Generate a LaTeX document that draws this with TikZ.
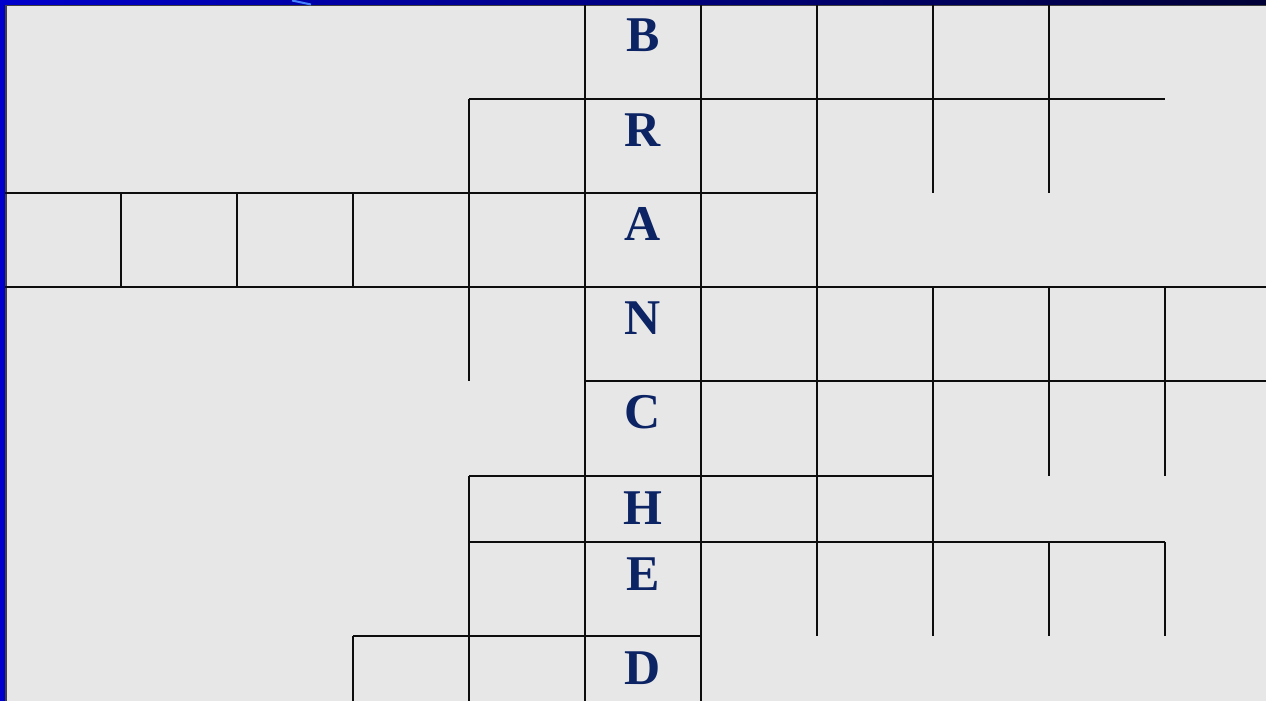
\documentclass[tikz,border=0pt]{standalone}
\usepackage{fontspec}
\setmainfont{Liberation Serif}
\begin{document}
\begin{tikzpicture}[x=1pt,y=-1pt,
  grid/.style={line width=2.8pt, draw=black!95},
  letter/.style={text=letterblue, font=\bfseries\fontsize{50}{50}\selectfont, inner sep=0pt, anchor=base}]
\definecolor{letterblue}{RGB}{12,36,100}
\definecolor{bg}{RGB}{231,231,231}
\definecolor{frameblue}{RGB}{0,0,205}
\definecolor{framedark}{RGB}{0,0,55}
\definecolor{streak}{RGB}{70,130,255}
\useasboundingbox (0,0) rectangle (1266,701);
% background and frame
\fill[bg] (0,0) rectangle (1266,701);
\shade[left color=frameblue, right color=framedark] (0,0) rectangle (1266,5.5);
\fill[frameblue] (0,0) rectangle (5,701);
\draw[line width=1.8pt, draw=black!75] (5.6,701) -- (5.6,5.6) -- (1266,5.6);
\draw[line width=2pt, draw=streak] (292,0.5) .. controls (301,2) .. (311,4.5);
% row 1 (B)
\draw[grid] (585,5) -- (585,99) (701,5) -- (701,99) (817,5) -- (817,99) (933,5) -- (933,99) (1049,5) -- (1049,99);
\draw[grid] (469,99) -- (1165,99);
% row 2 (R)
\draw[grid] (469,99) -- (469,381) (585,99) -- (585,193) (701,99) -- (701,193) (817,99) -- (817,287) (933,99) -- (933,193) (1049,99) -- (1049,193);
\draw[grid] (5,193) -- (817,193);
% row 3 (A)
\draw[grid] (121,193) -- (121,287) (237,193) -- (237,287) (353,193) -- (353,287) (585,193) -- (585,287) (701,193) -- (701,287);
\draw[grid] (5,287) -- (1266,287);
% row 4 (N)
\draw[grid] (585,287) -- (585,476) (701,287) -- (701,476) (817,287) -- (817,476) (933,287) -- (933,476) (1049,287) -- (1049,476) (1165,287) -- (1165,476);
\draw[grid] (585,381) -- (1266,381);
% row 6 (H)
\draw[grid] (469,476) -- (933,476);
\draw[grid] (469,476) -- (469,701) (585,476) -- (585,701) (701,476) -- (701,701) (817,476) -- (817,636) (933,476) -- (933,636);
\draw[grid] (469,542) -- (1165,542);
% row 7 (E)
\draw[grid] (1049,542) -- (1049,636) (1165,542) -- (1165,636);
\draw[grid] (353,636) -- (701,636);
% row 8 (D)
\draw[grid] (353,636) -- (353,701);
% letters
\node[letter] (B) at (643,52) {B};
\node[letter] (R) at (643,146) {R};
\node[letter] (A) at (643,240) {A};
\node[letter] (N) at (643,334) {N};
\node[letter] (C) at (643,428) {C};
\node[letter] (H) at (643,524) {H};
\node[letter] (E) at (643,590) {E};
\node[letter] (D) at (643,684) {D};
\end{tikzpicture}
\end{document}
